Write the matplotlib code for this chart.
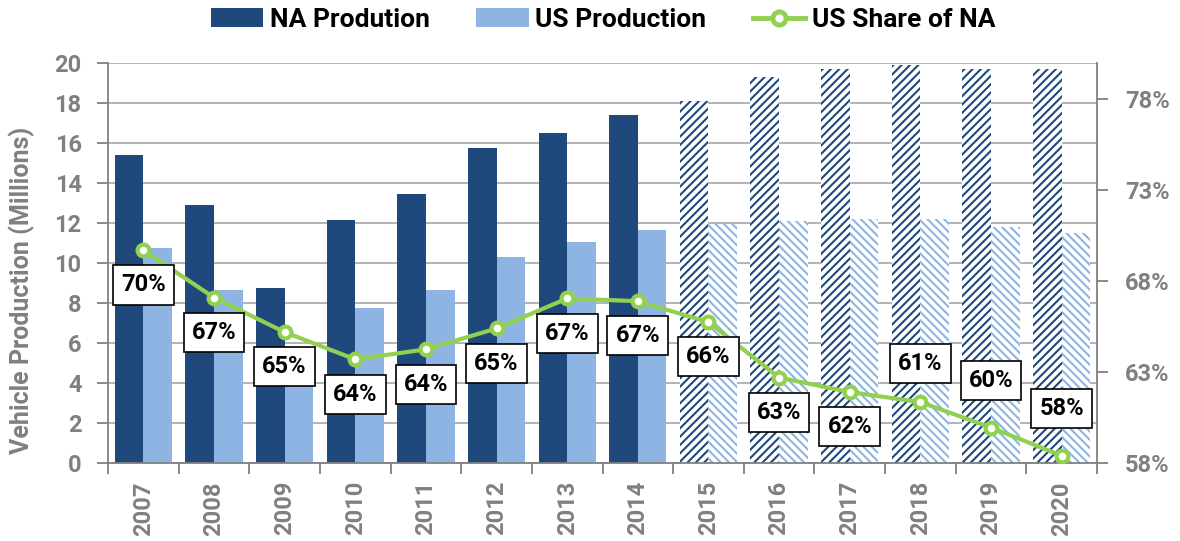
import matplotlib
matplotlib.use("Agg")
import matplotlib.pyplot as plt
from matplotlib.patches import Patch
from matplotlib.lines import Line2D
import numpy as np

years = ["2007", "2008", "2009", "2010", "2011", "2012", "2013", "2014",
         "2015", "2016", "2017", "2018", "2019", "2020"]
na_production = [15.4, 12.9, 8.75, 12.15, 13.45, 15.75, 16.5, 17.4,
                 18.1, 19.3, 19.7, 19.9, 19.7, 19.7]
us_production = [10.75, 8.65, 5.7, 7.75, 8.65, 10.3, 11.05, 11.65,
                 11.95, 12.1, 12.2, 12.2, 11.8, 11.5]
us_share = [69.7, 67.1, 65.2, 63.7, 64.25, 65.4, 67.05, 66.9,
            65.75, 62.7, 61.9, 61.35, 59.95, 58.4]
forecast = [False] * 8 + [True] * 6
# vertical offset of each data label (points, negative = below the marker)
label_offsets = [-25, -25, -24.5, -25, -25, -25, -25, -25,
                 -25, -25, -25, 28, 34, 34]

DARK = "#1F497D"
LIGHT = "#8DB4E2"
GREEN = "#92D050"
GRAY = "#808080"

plt.rcParams["font.family"] = ["Roboto", "DejaVu Sans"]
plt.rcParams["font.weight"] = "bold"
plt.rcParams["hatch.linewidth"] = 1.5

fig = plt.figure(figsize=(11.8, 5.41), dpi=100)
ax = fig.add_axes([108 / 1180, 1 - 463 / 541, (1097 - 108) / 1180, 400 / 541])

x = np.arange(len(years))
w = 0.405
for i in range(len(years)):
    if forecast[i]:
        ax.bar(x[i] - w / 2, na_production[i], w, facecolor="white",
               edgecolor=DARK, hatch="////", linewidth=0, zorder=2)
        ax.bar(x[i] + w / 2, us_production[i], w, facecolor="white",
               edgecolor=LIGHT, hatch="\\\\\\\\", linewidth=0, zorder=2)
    else:
        ax.bar(x[i] - w / 2, na_production[i], w, color=DARK, linewidth=0, zorder=2)
        ax.bar(x[i] + w / 2, us_production[i], w, color=LIGHT, linewidth=0, zorder=2)

ax.set_xlim(-0.5, len(years) - 0.5)
ax.set_ylim(0, 20)
ax.set_yticks(np.arange(0, 21, 2))
ax.yaxis.grid(True, color="#B3B3B3", linewidth=1.4)
ax.set_axisbelow(True)

ax.set_xticks(np.arange(-0.5, len(years), 1.0))
ax.set_xticklabels([])
ax.set_xticks(x, minor=True)
ax.set_xticklabels(years, minor=True, rotation=90, fontsize=17,
                   color=GRAY, fontweight="bold")
ax.tick_params(axis="x", which="major", length=8, width=1.3, color=GRAY, direction="out")
ax.tick_params(axis="x", which="minor", length=0, pad=13)
ax.tick_params(axis="y", length=8, width=1.3, color=GRAY, labelsize=17,
               labelcolor=GRAY, pad=11)
for lab in ax.get_yticklabels():
    lab.set_fontweight("bold")

for side in ["top", "right"]:
    ax.spines[side].set_visible(False)
for side in ["left", "bottom"]:
    ax.spines[side].set_color(GRAY)
    ax.spines[side].set_linewidth(1.3)

fig.text(22 / 1180, 1 - 290 / 541, "Vehicle Production (Millions)", rotation=90,
         ha="center", va="center", fontsize=18, color=GRAY, fontweight="bold")

ax2 = ax.twinx()
ax2.set_ylim(58, 80)
ax2.set_yticks([58, 63, 68, 73, 78])
ax2.set_yticklabels([f"{t}%" for t in [58, 63, 68, 73, 78]])
ax2.tick_params(axis="y", length=8, width=1.3, color=GRAY, labelsize=17,
                labelcolor=GRAY, pad=12)
for lab in ax2.get_yticklabels():
    lab.set_fontweight("bold")
for side in ["top", "left", "bottom"]:
    ax2.spines[side].set_visible(False)
ax2.spines["right"].set_color(GRAY)
ax2.spines["right"].set_linewidth(1.3)

ax2.plot(x, us_share, color=GREEN, linewidth=3, marker="o", markersize=8.5,
         markerfacecolor="white", markeredgecolor=GREEN, markeredgewidth=3, zorder=3)

for i, v in enumerate(us_share):
    ax2.annotate(f"{round(v):.0f}%", (x[i], v), xytext=(0, label_offsets[i]),
                 textcoords="offset points", ha="center", va="center",
                 fontsize=17, fontweight="bold", color="black", zorder=5,
                 bbox=dict(boxstyle="square,pad=0.34", facecolor="white",
                           edgecolor="black", linewidth=1.2))

handles = [Patch(facecolor=DARK, edgecolor="none"),
           Patch(facecolor=LIGHT, edgecolor="none"),
           Line2D([], [], color=GREEN, linewidth=3.5, marker="o", markersize=9.5,
                  markerfacecolor="white", markeredgecolor=GREEN, markeredgewidth=3.5)]
leg = fig.legend(handles, ["NA Prodution", "US Production", "US Share of NA"],
                 loc="center", bbox_to_anchor=(603 / 1180, 1 - 20 / 541),
                 ncol=3, frameon=False, handlelength=2.0,
                 handleheight=0.75, handletextpad=0.25, columnspacing=1.75,
                 prop={"weight": "bold", "size": 19})

fig.savefig("out.png", dpi=100)
